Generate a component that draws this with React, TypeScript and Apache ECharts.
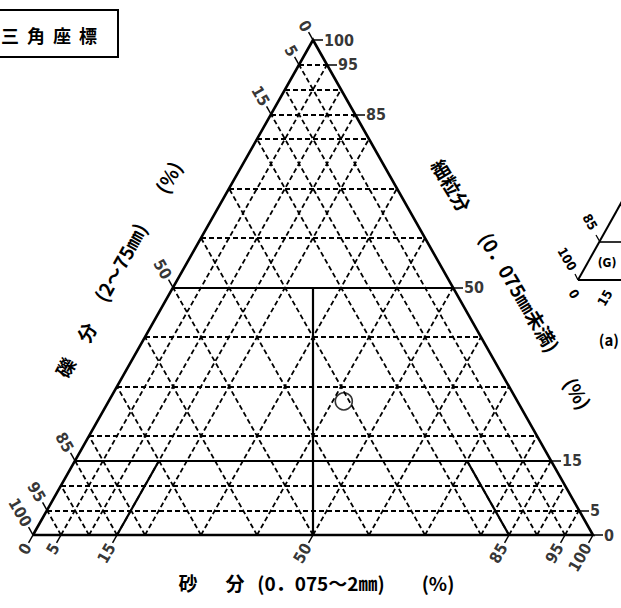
import React, { useEffect, useRef } from "react";
import * as echarts from "echarts";

// ---- data ----
const gridLevels = [5, 10, 15, 20, 30, 40, 50, 60, 70, 80, 85, 90, 95];
const gravelTicks = [100, 95, 85, 50, 15, 5, 0];
const sandTicks = [0, 5, 15, 50, 85, 95, 100];
const fineTicks = [100, 95, 85, 50, 15, 5, 0];
const boundaryFines = [15, 50];
const coarseLimitSand = [15];
const coarseLimitGravel = [15];
const coarseLimitFines = 15;
const sample = { gravel: 31, sand: 42, fines: 27 };

// ---- layout ----
const W = 621;
const H = 608;
const GRID = { left: 33, top: 40, width: 560, height: 495 };
const UX = 100 / GRID.width;
const UY = 100 / GRID.height;
const NUM_FONT = "'Liberation Sans Narrow', 'DejaVu Sans Condensed', sans-serif";
const CJK_FONT = "'Noto Sans CJK JP', sans-serif";

type P = [number, number];
// ternary (sand, fines) -> cartesian data units
const pt = (sand: number, fines: number): P => [sand + fines / 2, fines];
const off = (p: P, dx: number, dy: number): P => [p[0] + dx * UX, p[1] + dy * UY];

const LDIR: P = [-0.49, 0.87];
const BDIR: P = [-0.49, -0.87];

function buildOption() {
  const dashed: any[] = [];
  gridLevels.forEach((v) => {
    dashed.push({ coords: [pt(0, v), pt(100 - v, v)] });
    dashed.push({ coords: [pt(v, 0), pt(v, 100 - v)] });
    dashed.push({ coords: [pt(100 - v, 0), pt(0, 100 - v)] });
  });
  const solid: any[] = [];
  boundaryFines.forEach((f) => solid.push({ coords: [pt(0, f), pt(100 - f, f)] }));
  coarseLimitSand.forEach((s) =>
    solid.push({ coords: [pt(s, 0), pt(s, coarseLimitFines)] })
  );
  coarseLimitGravel.forEach((g) =>
    solid.push({ coords: [pt(100 - g, 0), pt(100 - g - coarseLimitFines, coarseLimitFines)] })
  );
  solid.push({ coords: [pt(50, 0), pt(25, 50)] });

  const ticks: any[] = [];
  gravelTicks.forEach((g) => {
    const p = pt(0, 100 - g);
    ticks.push({ coords: [p, off(p, LDIR[0] * 9, LDIR[1] * 9)] });
  });
  sandTicks.forEach((s) => {
    const p = pt(s, 0);
    ticks.push({ coords: [p, off(p, BDIR[0] * 9, BDIR[1] * 9)] });
  });
  fineTicks.forEach((f) => {
    const p = pt(100 - f, f);
    ticks.push({ coords: [p, off(p, 10, 0)] });
  });

  const labelBase = {
    show: true,
    formatter: "{b}",
    position: "inside",
    verticalAlign: "middle",
    color: "#000",
    fontSize: 16,
    fontWeight: "bold",
    fontFamily: NUM_FONT,
  };
  const hidden = { color: "rgba(0,0,0,0)" };
  const title = (t: string, x: number, y: number, deg: number, size = 19) => ({
    type: "text",
    x,
    y,
    rotation: (deg * Math.PI) / 180,
    style: { text: t, font: `bold ${size}px ${CJK_FONT}`, fill: "#000", align: "center", verticalAlign: "middle" },
  });

  return {
    animation: false,
    backgroundColor: "#fff",
    grid: { left: GRID.left, top: GRID.top, width: GRID.width, height: GRID.height },
    xAxis: { type: "value", min: 0, max: 100, show: false },
    yAxis: { type: "value", min: 0, max: 100, show: false },
    series: [
      {
        type: "lines",
        coordinateSystem: "cartesian2d",
        clip: false,
        silent: true,
        lineStyle: { color: "#000", width: 1.8, type: [5, 3], opacity: 1 },
        data: dashed,
      },
      {
        type: "lines",
        coordinateSystem: "cartesian2d",
        clip: false,
        silent: true,
        lineStyle: { color: "#000", width: 2.2, opacity: 1 },
        data: solid,
      },
      {
        type: "lines",
        coordinateSystem: "cartesian2d",
        clip: false,
        silent: true,
        polyline: true,
        lineStyle: { color: "#000", width: 2.6, opacity: 1, join: "miter" },
        data: [{ coords: [pt(0, 0), pt(100, 0), pt(0, 100), pt(0, 0)] }],
      },
      {
        type: "lines",
        coordinateSystem: "cartesian2d",
        clip: false,
        silent: true,
        lineStyle: { color: "#000", width: 1.5, opacity: 1 },
        data: ticks,
      },
      {
        type: "scatter",
        clip: false,
        silent: true,
        symbolSize: 1,
        itemStyle: hidden,
        label: { ...labelBase, rotate: -60, align: "right" },
        data: gravelTicks.map((g) => {
          const p = pt(0, 100 - g);
          return { name: String(g), value: off(p, LDIR[0] * 11, LDIR[1] * 11) };
        }),
      },
      {
        type: "scatter",
        clip: false,
        silent: true,
        symbolSize: 1,
        itemStyle: hidden,
        label: { ...labelBase, rotate: 60, align: "right" },
        data: sandTicks.map((s) => {
          const p = pt(s, 0);
          return { name: String(s), value: off(p, BDIR[0] * 11, BDIR[1] * 11) };
        }),
      },
      {
        type: "scatter",
        clip: false,
        silent: true,
        symbolSize: 1,
        itemStyle: hidden,
        label: { ...labelBase, align: "left" },
        data: fineTicks.map((f) => {
          const p = pt(100 - f, f);
          return { name: String(f), value: off(p, 11, 0) };
        }),
      },
      {
        type: "scatter",
        clip: false,
        silent: true,
        symbol: "circle",
        symbolSize: 17,
        itemStyle: { color: "rgba(0,0,0,0)", borderColor: "#000", borderWidth: 1.6 },
        data: [pt(sample.sand, sample.fines)],
      },
    ],
    graphic: [
      // title box
      {
        type: "rect",
        shape: { x: -5, y: 10, width: 123, height: 47 },
        style: { fill: "none", stroke: "#000", lineWidth: 2 },
      },
      ...["三", "角", "座", "標"].map((c, i) => ({
        type: "text",
        x: 10 + i * 26,
        y: 35,
        style: {
          text: c,
          font: `bold 18px ${CJK_FONT}`,
          fill: "#000",
          align: "center",
          verticalAlign: "middle",
        },
      })),
      // bottom title
      title("砂", 188, 582, 0),
      title("分", 235, 582, 0),
      title("(0．075～2㎜)", 321, 582, 0),
      title("(%)", 438, 582, 0),
      // left title
      title("礫", 65, 367, 61),
      title("分", 86, 332, 61),
      title("(2～75㎜)", 120, 262, 61),
      title("(%)", 168, 177, 61),
      // right title
      title("細粒分", 452, 185, -59),
      title("(0．075㎜未満)", 520, 292, -59),
      title("(%)", 578, 393, -59),
      // partial neighbouring diagram at right edge
      { type: "line", shape: { x1: 578, y1: 280, x2: 625, y2: 196 }, style: { stroke: "#000", lineWidth: 2 } },
      { type: "line", shape: { x1: 600, y1: 242, x2: 621, y2: 242 }, style: { stroke: "#000", lineWidth: 1.6 } },
      { type: "line", shape: { x1: 578, y1: 280, x2: 621, y2: 280 }, style: { stroke: "#000", lineWidth: 2 } },
      { type: "line", shape: { x1: 600, y1: 242, x2: 596, y2: 235 }, style: { stroke: "#000", lineWidth: 1.3 } },
      { type: "line", shape: { x1: 578, y1: 280, x2: 575, y2: 274 }, style: { stroke: "#000", lineWidth: 1.3 } },
      ...[
        { t: "85", x: 590, y: 222, r: -60, s: 13 },
        { t: "100", x: 567, y: 259, r: -60, s: 13 },
        { t: "0", x: 574, y: 294, r: -60, s: 13 },
        { t: "15", x: 605, y: 298, r: 60, s: 13 },
      ].map((o) => ({
        type: "text",
        x: o.x,
        y: o.y,
        rotation: (o.r * Math.PI) / 180,
        style: { text: o.t, font: `bold ${o.s}px ${NUM_FONT}`, fill: "#000", align: "center", verticalAlign: "middle" },
      })),
      {
        type: "text",
        x: 607,
        y: 263,
        style: { text: "(G)", font: `bold 12px ${NUM_FONT}`, fill: "#000", align: "center", verticalAlign: "middle" },
      },
      {
        type: "text",
        x: 619,
        y: 339,
        style: { text: "(a)", font: `bold 15px ${CJK_FONT}`, fill: "#000", align: "right", verticalAlign: "middle" },
      },
    ],
  };
}

export default function App() {
  const ref = useRef<HTMLDivElement>(null);
  useEffect(() => {
    if (!ref.current) return;
    const chart = echarts.init(ref.current, null, { renderer: "svg" });
    chart.setOption(buildOption() as any);
    return () => chart.dispose();
  }, []);
  return (
    <div
      ref={ref}
      style={{ position: "fixed", left: 0, top: 0, width: W, height: H, background: "#fff" }}
    />
  );
}
